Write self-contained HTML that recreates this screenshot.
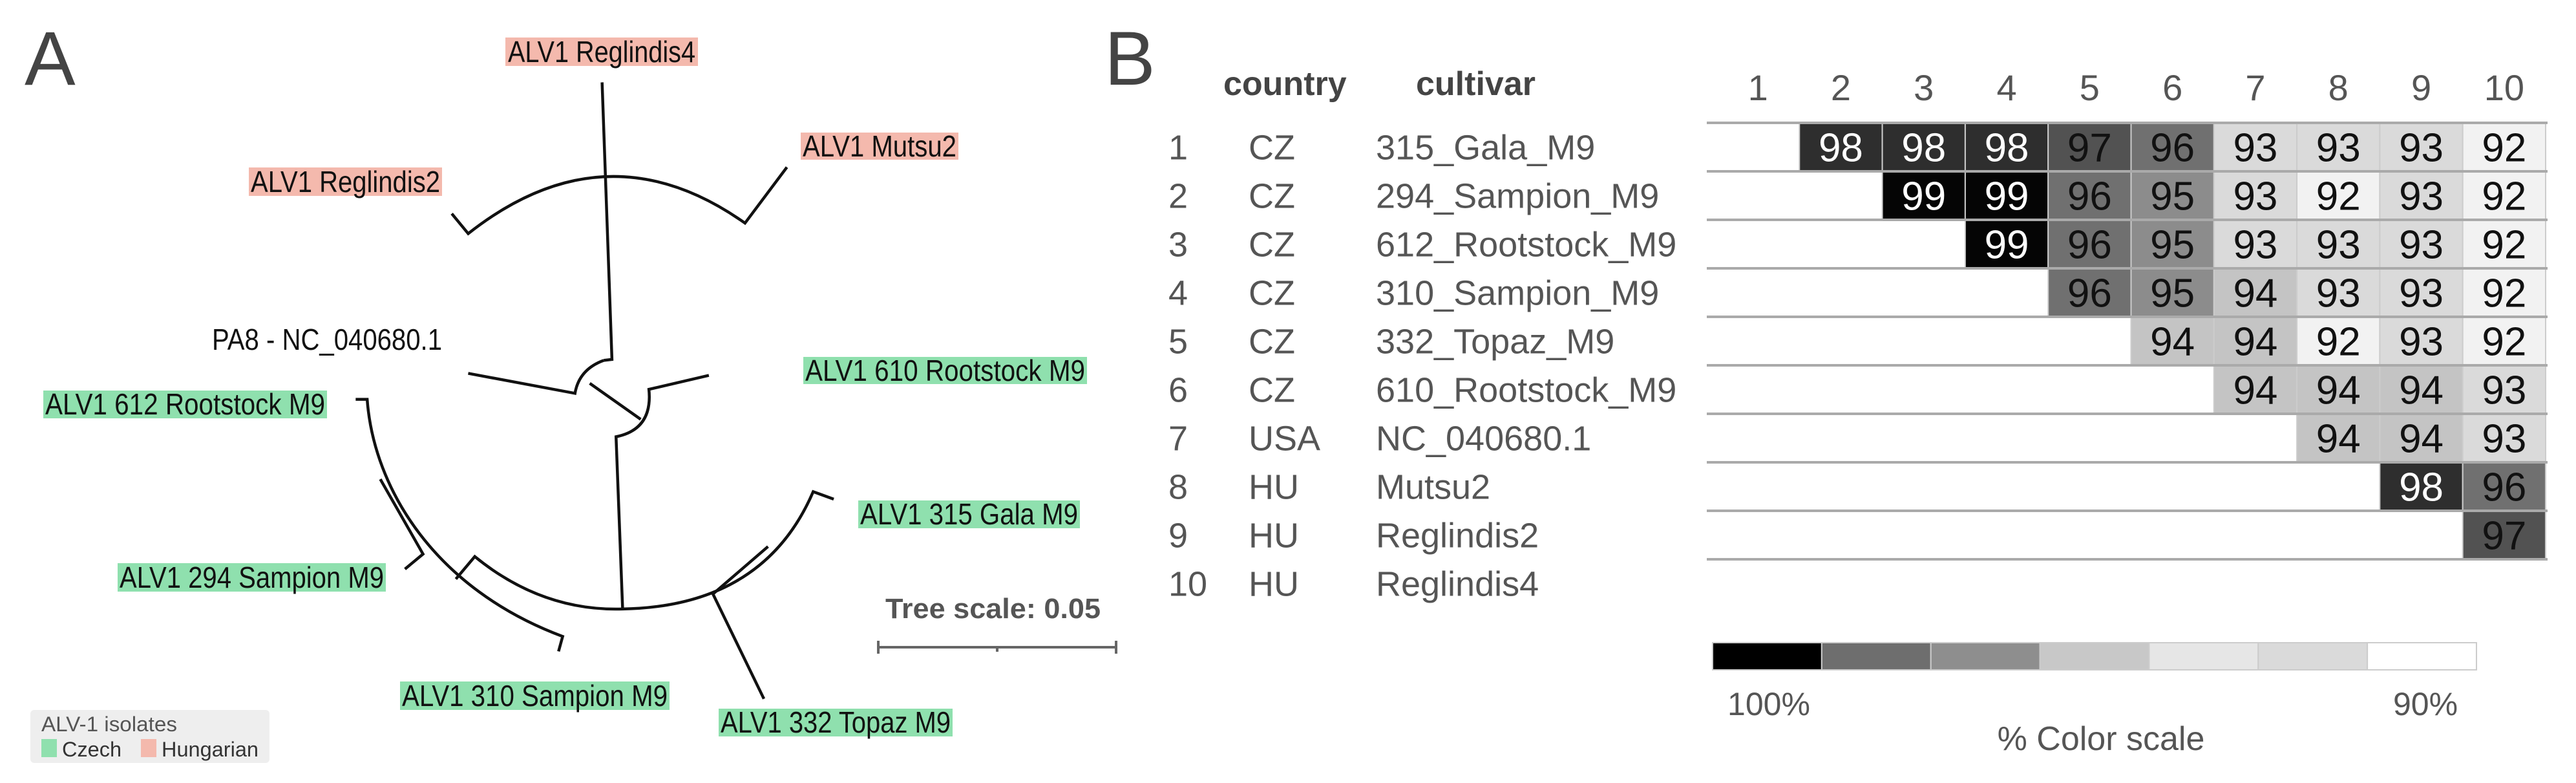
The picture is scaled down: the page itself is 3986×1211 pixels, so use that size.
<!DOCTYPE html>
<html><head><meta charset="utf-8"><style>
html,body{margin:0;padding:0;background:#fff;}
svg{display:block;font-family:"Liberation Sans",sans-serif;}
</style></head><body>
<svg id="fig" width="3986" height="1211" viewBox="0 0 3986 1211">
<text x="38" y="131" font-size="118" fill="#444">A</text>
<text x="1709" y="131" font-size="118" fill="#444">B</text>

<g>
<rect x="782" y="58" width="298" height="44" fill="#f4b9ad"/>
<rect x="1239" y="205" width="244" height="42" fill="#f4b9ad"/>
<rect x="385" y="259" width="299" height="44" fill="#f4b9ad"/>
<rect x="1243" y="552" width="439" height="42" fill="#8fe0ae"/>
<rect x="67" y="604" width="439" height="43" fill="#8fe0ae"/>
<rect x="1328" y="774" width="343" height="43" fill="#8fe0ae"/>
<rect x="182" y="871" width="415" height="44" fill="#8fe0ae"/>
<rect x="619" y="1054" width="417" height="44" fill="#8fe0ae"/>
<rect x="1112" y="1096" width="362" height="43" fill="#8fe0ae"/>
</g>
<g font-size="46" fill="#111">
<text x="786" y="96" textLength="290" lengthAdjust="spacingAndGlyphs">ALV1 Reglindis4</text>
<text x="1242" y="242" textLength="238" lengthAdjust="spacingAndGlyphs">ALV1 Mutsu2</text>
<text x="388" y="297" textLength="293" lengthAdjust="spacingAndGlyphs">ALV1 Reglindis2</text>
<text x="328" y="541" textLength="356" lengthAdjust="spacingAndGlyphs">PA8 - NC_040680.1</text>
<text x="1246" y="589" textLength="433" lengthAdjust="spacingAndGlyphs">ALV1 610 Rootstock M9</text>
<text x="70" y="641" textLength="433" lengthAdjust="spacingAndGlyphs">ALV1 612 Rootstock M9</text>
<text x="1331" y="811" textLength="337" lengthAdjust="spacingAndGlyphs">ALV1 315 Gala M9</text>
<text x="185" y="909" textLength="409" lengthAdjust="spacingAndGlyphs">ALV1 294 Sampion M9</text>
<text x="622" y="1092" textLength="411" lengthAdjust="spacingAndGlyphs">ALV1 310 Sampion M9</text>
<text x="1115" y="1133" textLength="356" lengthAdjust="spacingAndGlyphs">ALV1 332 Topaz M9</text>
</g>

<g transform="scale(1.271,0.772)" fill="none" stroke="#111" stroke-width="4.5">
<path vector-effect="non-scaling-stroke" d="M733,165 L745,720 L735,722"/>
<path vector-effect="non-scaling-stroke" d="M550,428 L570,468 Q738,250 907,447 L958,335"/>
<path vector-effect="non-scaling-stroke" d="M570,748 L700,788 Q705,740 735,722"/>
<path vector-effect="non-scaling-stroke" d="M718,768 L780,840"/>
<path vector-effect="non-scaling-stroke" d="M863,752 L790,780 Q795,860 750,875 L758,1220"/>
<path vector-effect="non-scaling-stroke" d="M433,800 L447,800 C455,980 530,1180 685,1275 L680,1305"/>
<path vector-effect="non-scaling-stroke" d="M463,960 L515,1110 L493,1140"/>
<path vector-effect="non-scaling-stroke" d="M555,1160 L578,1115 Q660,1225 758,1220 Q930,1215 990,985 L1015,1000"/>
<path vector-effect="non-scaling-stroke" d="M930,1400 L868,1190 L935,1095"/>
</g>
<text x="1370" y="956" font-size="44" font-weight="bold" fill="#555" textLength="333" lengthAdjust="spacingAndGlyphs">Tree scale: 0.05</text>
<g stroke="#666" stroke-width="4">
<line x1="1357" y1="1001" x2="1729" y2="1001"/><line x1="1359" y1="991" x2="1359" y2="1011"/><line x1="1727" y1="991" x2="1727" y2="1011"/><line x1="1543" y1="1001" x2="1543" y2="1008"/>
</g>
<g>
<rect x="47" y="1098" width="370" height="82" rx="6" fill="#eeeeee"/>
<text x="64" y="1131" font-size="32" fill="#555" textLength="210" lengthAdjust="spacingAndGlyphs">ALV-1 isolates</text>
<rect x="64" y="1143" width="24" height="28" fill="#8fe0ae"/>
<text x="96" y="1170" font-size="32" fill="#333" textLength="92" lengthAdjust="spacingAndGlyphs">Czech</text>
<rect x="218" y="1143" width="24" height="28" fill="#f4b9ad"/>
<text x="250" y="1170" font-size="32" fill="#333" textLength="150" lengthAdjust="spacingAndGlyphs">Hungarian</text>
</g>

<g id="heat"></g>
<g>
<g id="scale"></g>
<text x="2737" y="1106" font-size="50" fill="#555" text-anchor="middle">100%</text>
<text x="3753" y="1106" font-size="50" fill="#555" text-anchor="middle">90%</text>
<text x="3251" y="1160" font-size="52" fill="#555" text-anchor="middle">% Color scale</text>
</g>
</svg>
<script>
const countries = ["CZ","CZ","CZ","CZ","CZ","CZ","USA","HU","HU","HU"];
const cultivars = ["315_Gala_M9","294_Sampion_M9","612_Rootstock_M9","310_Sampion_M9","332_Topaz_M9","610_Rootstock_M9","NC_040680.1","Mutsu2","Reglindis2","Reglindis4"];
const row1 = [98,98,98,97,96,93,93,93,92];
const row2 = [99,99,96,95,93,92,93,92];
const row3 = [99,96,95,93,93,93,92];
const row4 = [96,95,94,93,93,92];
const row5 = [94,94,92,93,92];
const row6 = [94,94,94,93];
const row7 = [94,94,93];
const row8 = [98,96];
const row9 = [97];
const rows = [row1,row2,row3,row4,row5,row6,row7,row8,row9];
const scaleColors = ["#000000","#6e6e6e","#8e8e8e","#c8c8c8","#e6e6e6","#dadada","#ffffff"];
const NS="http://www.w3.org/2000/svg";
const shade = {99:"#050505",98:"#2e2e2e",97:"#525252",96:"#707070",95:"#8c8c8c",94:"#c4c4c4",93:"#dadada",92:"#f2f2f2"};
const gx0=2656, cw=128.3, gy0=190, rh=75, gxL=2641, gxR=3942;
const xCol = c => gx0 + (c-1)*cw;
const yRow = r => gy0 + (r-1)*rh;
function el(tag, attrs, parent){const e=document.createElementNS(NS,tag);for(const k in attrs)e.setAttribute(k,attrs[k]);parent.appendChild(e);return e;}
const heat=document.getElementById('heat');
const hdr=el('text',{x:1893,y:147,'font-size':52,'font-weight':'bold',fill:'#444'},heat);hdr.textContent='country';


const hdr2=el('text',{x:2191,y:147,'font-size':52,'font-weight':'bold',fill:'#444'},heat);hdr2.textContent='cultivar';


for(let c=1;c<=10;c++){
  const t=el('text',{x:xCol(c)+cw/2,y:155,'font-size':56,fill:'#555','text-anchor':'middle'},heat);t.textContent=c;
  
  
}
for(let r=1;r<=10;r++){
  const cy=yRow(r)+rh/2+19;
  const a=el('text',{x:1808,y:cy,'font-size':54,fill:'#555'},heat);a.textContent=r;
  
  
  const b=el('text',{x:1932,y:cy,'font-size':54,fill:'#555'},heat);b.textContent=countries[r-1];
  
  
  const d=el('text',{x:2129,y:cy,'font-size':54,fill:'#555'},heat);d.textContent=cultivars[r-1];
  
  
}
rows.forEach((vals,i)=>{
  const r=i+1;
  vals.forEach((v,j)=>{
    const c=r+1+j;
    const rc=el('rect',{x:xCol(c),y:yRow(r),width:cw,height:rh,fill:shade[v]||'#fff',stroke:'#ccc','stroke-width':2},heat);
    
    
    const t=el('text',{x:xCol(c)+cw/2,y:yRow(r)+rh/2+22,'font-size':62,'text-anchor':'middle',fill:v>=98?'#fff':'#111'},heat);
    t.textContent=v;
    
    
  });
});
for(let k=0;k<=9;k++){
  const ln=el('line',{x1:gxL,x2:gxR,y1:gy0+k*rh,y2:gy0+k*rh,stroke:'#aaa','stroke-width':4},heat);
  
  
}
const sc=document.getElementById('scale');
const sx0=2650, sx1=3832, sw=(sx1-sx0)/scaleColors.length;
scaleColors.forEach((col,i)=>{
  const r=el('rect',{x:sx0+i*sw,y:994,width:sw,height:42,fill:col,stroke:'#ccc','stroke-width':2},sc);
  
  
});
</script>
</body></html>
